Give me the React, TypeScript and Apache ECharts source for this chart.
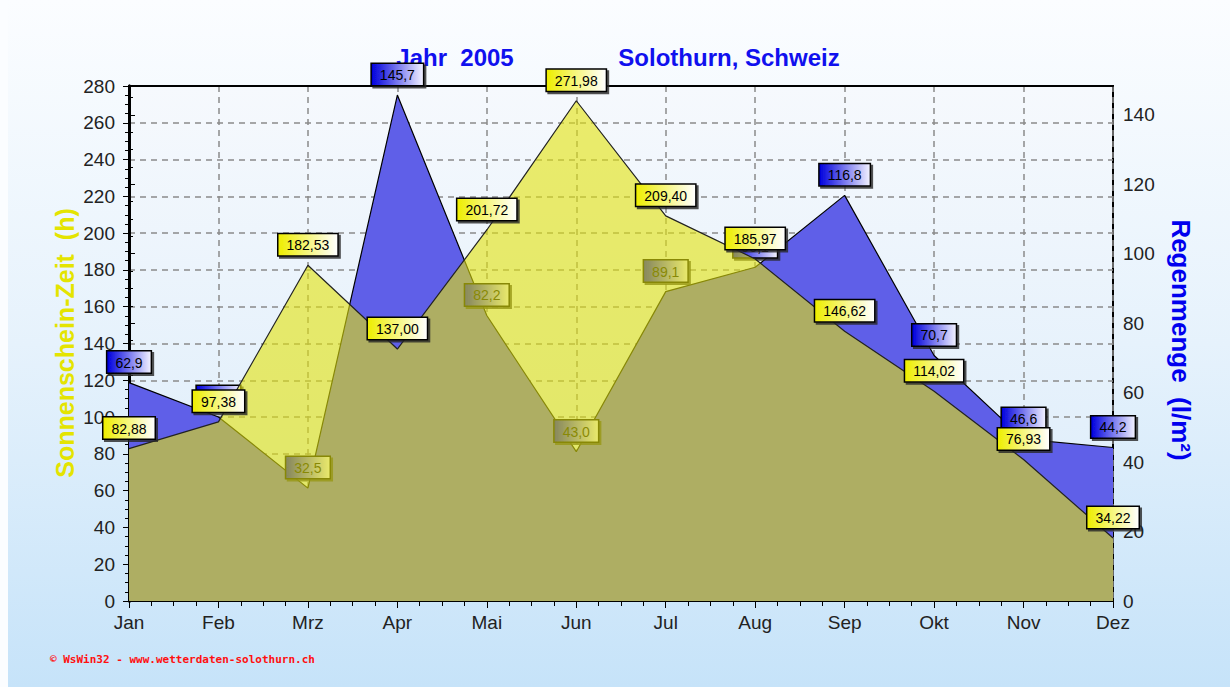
import React, { useEffect, useRef } from "react";
import * as echarts from "echarts";

const months = ["Jan", "Feb", "Mrz", "Apr", "Mai", "Jun", "Jul", "Aug", "Sep", "Okt", "Nov", "Dez"];
const sunshine = [82.88, 97.38, 182.53, 137.0, 201.72, 271.98, 209.4, 185.97, 146.62, 114.02, 76.93, 34.22];
const rain = [62.9, 53.0, 32.5, 145.7, 82.2, 43.0, 89.1, 96.1, 116.8, 70.7, 46.6, 44.2];
const titleYear = "Jahr  2005";
const titlePlace = "Solothurn, Schweiz";
const leftName = "Sonnenschein-Zeit  (h)";
const rightName = "Regenmenge  (l/m²)";
const footer = "© WsWin32 - www.wetterdaten-solothurn.ch";

const FONT = "'Liberation Sans', Arial, sans-serif";

export default function App() {
  const ref = useRef<HTMLDivElement>(null);
  useEffect(() => {
    if (!ref.current) return;
    const chart = echarts.init(ref.current, undefined, { renderer: "svg" });
    const grad = (c1: string, c2: string) =>
      new echarts.graphic.LinearGradient(0, 0, 1, 0, [
        { offset: 0, color: c1 },
        { offset: 1, color: c2 },
      ]);
    const labelBase = {
      show: true,
      position: "top",
      distance: 10,
      fontFamily: FONT,
      fontSize: 14,
      color: "#000",
      borderColor: "#000",
      borderWidth: 1.5,
      padding: [4, 8, 3, 8],
      shadowColor: "rgba(40,40,40,0.8)",
      shadowOffsetX: 2,
      shadowOffsetY: 2,
      shadowBlur: 0,
    };
    chart.setOption({
      animation: false,
      backgroundColor: new echarts.graphic.LinearGradient(0, 0, 0, 1, [
        { offset: 0, color: "#fbfdff" },
        { offset: 0.5, color: "#e6f2fc" },
        { offset: 1, color: "#c6e3f9" },
      ]),
      grid: {
        left: 129,
        right: 117,
        top: 86,
        bottom: 86,
        show: true,
        borderColor: "#000",
        borderWidth: 2,
        backgroundColor: new echarts.graphic.LinearGradient(0, 0, 0, 1, [
          { offset: 0, color: "#f6f9fd" },
          { offset: 1, color: "#d9ebfa" },
        ]),
      },
      graphic: [
        {
          type: "rect",
          shape: { x: 0, y: 0, width: 8, height: 687 },
          style: { fill: "#fbfdff" },
          silent: true,
        },
        {
          type: "text",
          x: 455,
          y: 57,
          style: { text: titleYear, font: `bold 24px ${FONT}`, fill: "#1010ee", align: "center", verticalAlign: "middle" },
        },
        {
          type: "text",
          x: 729,
          y: 57,
          style: { text: titlePlace, font: `bold 24px ${FONT}`, fill: "#1010ee", align: "center", verticalAlign: "middle" },
        },
        {
          type: "text",
          x: 65,
          y: 343,
          rotation: Math.PI / 2,
          style: { text: leftName, font: `bold 25px ${FONT}`, fill: "#e4e400", align: "center", verticalAlign: "middle" },
        },
        {
          type: "text",
          x: 1181,
          y: 340,
          rotation: -Math.PI / 2,
          style: { text: rightName, font: `bold 26px ${FONT}`, fill: "#0000ee", align: "center", verticalAlign: "middle" },
        },
        {
          type: "text",
          x: 50,
          y: 659,
          style: { text: footer, font: `bold 11px 'DejaVu Sans Mono', monospace`, fill: "#ff1010", align: "left", verticalAlign: "middle" },
        },
      ],
      xAxis: [
        {
          type: "category",
          data: months,
          boundaryGap: false,
          axisLine: { lineStyle: { color: "#000", width: 2 } },
          axisTick: { show: true, length: 7, lineStyle: { color: "#000" } },
          axisLabel: { fontFamily: FONT, fontSize: 19, color: "#222", margin: 12 },
          splitLine: { show: true, lineStyle: { color: "#8a8a8a", type: [6, 5], width: 1.5 } },
        },
        {
          type: "value",
          min: 0,
          max: 11,
          interval: 1,
          position: "bottom",
          axisLine: { show: false },
          axisLabel: { show: false },
          axisTick: { show: true, length: 6, lineStyle: { color: "#000" } },
          minorTick: { show: true, splitNumber: 4, length: 5, lineStyle: { color: "#000" } },
          splitLine: { show: false },
        },
        {
          type: "value",
          min: 0,
          max: 11,
          position: "top",
          axisLine: { show: true, lineStyle: { color: "#000", width: 2 } },
          axisLabel: { show: false },
          axisTick: { show: false },
          splitLine: { show: false },
        },
      ],
      yAxis: [
        {
          type: "value",
          min: 0,
          max: 280,
          interval: 20,
          axisLine: { show: true, lineStyle: { color: "#000", width: 3 } },
          axisTick: { show: true, length: 6, lineStyle: { color: "#000" } },
          minorTick: { show: true, splitNumber: 4, length: 4, lineStyle: { color: "#000" } },
          axisLabel: { fontFamily: FONT, fontSize: 19, color: "#222", margin: 14 },
          splitLine: { show: true, lineStyle: { color: "#8a8a8a", type: [6, 5], width: 1.5 } },
        },
        {
          type: "value",
          min: 0,
          max: 148.3,
          interval: 20,
          position: "right",
          axisLine: { show: true, lineStyle: { color: "#000", width: 3 } },
          axisTick: { show: true, length: 6, lineStyle: { color: "#000" } },
          minorTick: { show: true, splitNumber: 4, length: 4, lineStyle: { color: "#000" } },
          axisLabel: {
            fontFamily: FONT,
            fontSize: 19,
            color: "#222",
            margin: 10,
            showMaxLabel: false,
            formatter: (v: number) => (Math.abs(v % 20) < 1e-6 ? String(v) : ""),
          },
          splitLine: { show: false },
        },
      ],
      series: [
        {
          name: "Regenmenge",
          type: "line",
          yAxisIndex: 1,
          xAxisIndex: 0,
          data: rain,
          z: 2,
          symbol: "circle",
          symbolSize: 0.1,
          lineStyle: { color: "#000", width: 1.2 },
          itemStyle: { color: "#000" },
          areaStyle: { color: "#5f5fe8", opacity: 1 },
          label: {
            ...labelBase,
            backgroundColor: grad("#0000dd", "#f0f0ff"),
            formatter: (p: any) => p.value.toFixed(1).replace(".", ","),
          },
        },
        {
          name: "Sonnenschein",
          type: "line",
          yAxisIndex: 0,
          xAxisIndex: 0,
          data: sunshine,
          z: 3,
          symbol: "circle",
          symbolSize: 0.1,
          lineStyle: { color: "#222", width: 1.2 },
          itemStyle: { color: "#000" },
          areaStyle: { color: "rgba(226,226,10,0.6)", opacity: 1 },
          label: {
            ...labelBase,
            backgroundColor: grad("#eeee00", "#ffffff"),
            formatter: (p: any) => p.value.toFixed(2).replace(".", ","),
          },
        },
      ],
    });
    return () => chart.dispose();
  }, []);
  return (
    <div
      ref={ref}
      style={{ position: "absolute", left: 0, top: 0, width: 1230, height: 687 }}
    />
  );
}
